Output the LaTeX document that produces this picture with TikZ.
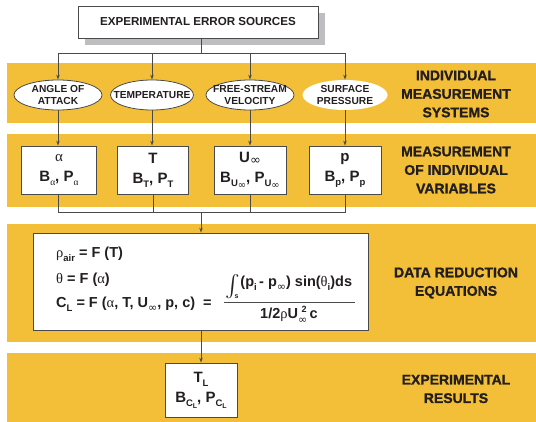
\documentclass[tikz,border=0pt]{standalone}
\usepackage{fontspec}
\usepackage{graphicx}
\setmainfont{Liberation Sans}
\newfontfamily\grk{Liberation Serif}
\newfontfamily\infont{DejaVu Sans}
\newfontfamily\heavy{Liberation Sans Bold}[FakeBold=1.2]
\usetikzlibrary{arrows.meta,shapes.geometric,shadows}
\definecolor{band}{HTML}{F4BF38}
\definecolor{edge}{HTML}{4A4A4A}
\definecolor{shade}{HTML}{BEBEC0}
\definecolor{ink}{HTML}{231F20}
\newcommand\lo[2][-0.5ex]{\raisebox{#1}{\fontsize{9.5}{9.5}\selectfont #2}}
\newcommand\llo[1]{\raisebox{-0.45ex}{\fontsize{7}{7}\selectfont #1}}
\newcommand\infy[1][11]{{\infont\mdseries\fontsize{#1}{#1}\selectfont ∞}}
\newcommand\ga{{\grk\mdseries α}}
\newcommand\gr{{\grk\mdseries ρ}}
\newcommand\gt{{\grk\mdseries θ}}
\begin{document}
\begin{tikzpicture}[x=1pt,y=-1pt,
  conn/.style={draw=edge, line width=0.8pt},
  arr/.style={conn, -{Stealth[length=5pt,width=3.5pt]}},
  bandbox/.style={fill=band, draw=none},
  topbox/.style={draw=edge, fill=white, line width=0.9pt, minimum width=240pt, minimum height=32pt, inner sep=0pt,
     font=\fontsize{11.6}{13}\selectfont\bfseries, text=ink,
     drop shadow={shadow xshift=7pt, shadow yshift=-7pt, fill=shade, opacity=1}},
  sys/.style={ellipse, draw=edge, fill=white, line width=0.8pt, minimum height=30pt, inner xsep=-20pt, inner ysep=-8pt,
     font=\fontsize{10.2}{12}\selectfont\bfseries, align=center, text=ink},
  varbox/.style={draw=edge, fill=white, line width=0.8pt, minimum width=72pt, minimum height=48pt, inner sep=0pt,
     font=\fontsize{15}{20}\selectfont\bfseries, align=center, text=ink},
  eqbox/.style={draw=edge, fill=white, line width=0.8pt, minimum width=335pt, minimum height=97pt, inner sep=0pt},
  eqtext/.style={anchor=base west, inner sep=0pt, font=\fontsize{14.5}{14.5}\selectfont\bfseries, text=ink},
  lab/.style={font=\fontsize{14}{18.5}\selectfont\heavy, align=center, text=ink}
]
\useasboundingbox (0,0) rectangle (536,422);
% bands
\fill[bandbox] (7,63) rectangle (536,123);
\fill[bandbox] (7,134) rectangle (536,207);
\fill[bandbox] (7,224) rectangle (536,342);
\fill[bandbox] (7,353) rectangle (536,422);

% top
\node[topbox] (src) at (198,22) {EXPERIMENTAL ERROR SOURCES};
\coordinate (j1) at (201,53);
\coordinate (j2) at (201,212);

% measurement systems
\node[sys, minimum width=88pt] (e1) at (58,95) {ANGLE OF\\ATTACK};
\node[sys, minimum width=83pt] (e2) at (152,95) {TEMPERATURE};
\node[sys, minimum width=88pt] (e3) at (250,95) {FREE-STREAM\\VELOCITY};
\node[sys, minimum width=85pt, draw=none] (e4) at (345,95) {SURFACE\\PRESSURE};

% variables
\node[varbox, minimum width=75pt] (b1) at (59,170) {\ga\\B\lo{\ga}, P\lo{\ga}};
\node[varbox, minimum width=71pt] (b2) at (153,170) {T\\B\lo{T}, P\lo{T}};
\node[varbox] (b3) at (250,170) {U\lo[-0.3ex]{\infy[13]}\\B\lo{U\llo{\infy[10]}}, P\lo{U\llo{\infy[10]}}};
\node[varbox] (b4) at (345,170) {p\\B\lo{p}, P\lo{p}};

% data reduction
\node[eqbox] (eq) at (200.5,281.5) {};
\node[eqtext] (l1) at (56,258) {\gr\lo{air} = F (T)};
\node[eqtext] (l2) at (56,284) {\gt\ = F (\ga)};
\node[eqtext] (l3) at (56,308) {C\lo{L} = F (\ga, T, U\lo{\infy}, p, c)\ \ =};
\node[eqtext, anchor=base] (num) at (289,287) {\raisebox{-8pt}{\resizebox{!}{20pt}{\mdseries$\int$}}\llap{\raisebox{-12pt}{\fontsize{7}{7}\selectfont s\hspace{2pt}}}(p\lo{i}\,- p\lo{\infy}) sin(\gt\lo{i})ds};
\coordinate (fb1) at (224,302);
\coordinate (fb2) at (355,302);
\draw[draw=edge, line width=0.8pt] (fb1) -- (fb2);
\node[eqtext, anchor=base] (den) at (289,319) {1/2\gr U\raisebox{-0.6ex}{\makebox[0pt][l]{\raisebox{1.45ex}{\fontsize{9}{9}\selectfont\hspace{3.5pt}2}}\infy}\,c};

% results
\node[varbox, minimum height=54pt] (res) at (201,390) {T\lo{L}\\B\lo{C\llo{L}}, P\lo{C\llo{L}}};

% labels
\node[lab] (t1) at (456,94) {INDIVIDUAL\\MEASUREMENT\\SYSTEMS};
\node[lab] (t2) at (456,170) {MEASUREMENT\\OF INDIVIDUAL\\VARIABLES};
\node[lab] (t3) at (456,283) {DATA REDUCTION\\EQUATIONS};
\node[lab] (t4) at (456,389) {EXPERIMENTAL\\RESULTS};

% connectors
\draw[conn] (src.south -| j1) -- (j1);
\draw[conn] (e1.north |- j1) -- (e4.north |- j1);
\foreach \e in {e1,e2,e3,e4}{
  \draw[arr] (\e.north |- j1) -- (\e.north);
}
\draw[arr] (e1.south) -- (e1.south |- b1.north);
\draw[arr] (e2.south) -- (e2.south |- b2.north);
\draw[arr] (e3.south) -- (e3.south |- b3.north);
\draw[arr] (e4.south) -- (e4.south |- b4.north);
\draw[conn] (b1.south -| e1) -- (e1 |- j2) -- (b4.south |- j2) -- (b4.south);
\draw[conn] (b2.south) -- (b2.south |- j2);
\draw[conn] (b3.south) -- (b3.south |- j2);
\draw[arr] (j2) -- (eq.north -| j2);
\draw[arr] (eq.south -| j2) -- (res.north -| j2);
\end{tikzpicture}
\end{document}
